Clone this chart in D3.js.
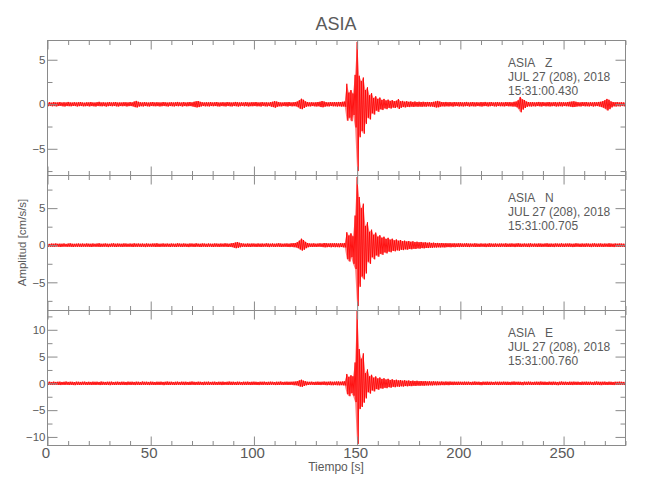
<!DOCTYPE html>
<html><head><meta charset="utf-8">
<script src="https://cdn.jsdelivr.net/npm/d3@7"></script>
<style>body{margin:0;background:#fff}svg{display:block}</style>
</head><body>
<svg id="c" width="650" height="500"></svg>
<script>
// ---------- data (per-second envelope, t = 0..280 s) ----------
const title = "ASIA";
const station = "ASIA";
const channels = ["Z", "N", "E"];
const dateLabel = "JUL 27 (208), 2018";
const startTimes = ["15:31:00.430", "15:31:00.705", "15:31:00.760"];
const xLabel = "Tiempo [s]";
const yLabel = "Amplitud [cm/s/s]";
const xTicks = [0, 50, 100, 150, 200, 250];
const xMinor = [10,20,30,40,60,70,80,90,110,120,130,140,160,170,180,190,210,220,230,240,260,270,280];
const yDomains = [[-8.0, 7.16], [-8.8, 9.4], [-11.6, 13.6]];
const yMajor = [[-5, 0, 5], [-5, 0, 5], [-10, -5, 0, 5, 10]];
const yMinor = [[-7.5, -2.5, 2.5], [-7.5, -2.5, 2.5, 7.5], [-7.5, -2.5, 2.5, 7.5, 12.5]];

const zUp = [
0.2,0.22,0.18,0.25,0.2,0.21,0.24,0.19,0.22,0.2,0.26,0.21,0.19,0.23,0.2,0.22,0.25,0.2,0.18,0.22,
0.21,0.24,0.2,0.19,0.23,0.27,0.2,0.22,0.19,0.21,0.24,0.2,0.22,0.25,0.19,0.21,0.2,0.23,0.22,0.2,
0.24,0.21,0.3,0.38,0.28,0.22,0.2,0.24,0.21,0.19,0.22,0.25,0.2,0.23,0.21,0.2,0.24,0.22,0.19,0.21,
0.23,0.2,0.22,0.26,0.21,0.2,0.24,0.19,0.22,0.25,0.21,0.28,0.33,0.36,0.27,0.22,0.2,0.23,0.21,0.24,
0.2,0.22,0.25,0.19,0.21,0.23,0.2,0.24,0.22,0.2,0.21,0.26,0.23,0.2,0.22,0.19,0.24,0.21,0.2,0.23,
0.22,0.25,0.2,0.21,0.24,0.2,0.22,0.19,0.23,0.28,0.35,0.3,0.24,0.21,0.2,0.23,0.22,0.25,0.2,0.22,
0.24,0.3,0.45,0.62,0.5,0.32,0.24,0.21,0.23,0.2,0.22,0.25,0.28,0.36,0.3,0.23,0.21,0.24,0.22,0.25,
0.23,0.26,0.24,0.28,0.3,2.3,1.3,1.6,1.2,3.3,7.0,3.2,2.6,3.0,1.6,1.9,1.0,1.25,0.7,0.9,
0.6,0.75,0.48,0.6,0.42,0.52,0.38,0.46,0.34,0.4,0.58,0.33,0.38,0.29,0.34,0.27,0.31,0.26,0.3,0.25,
0.28,0.25,0.27,0.24,0.26,0.25,0.23,0.27,0.32,0.38,0.3,0.25,0.23,0.26,0.22,0.24,0.21,0.25,0.23,0.22,
0.24,0.21,0.23,0.26,0.2,0.22,0.25,0.21,0.23,0.2,0.24,0.22,0.26,0.21,0.23,0.25,0.2,0.22,0.24,0.21,
0.23,0.2,0.25,0.22,0.24,0.21,0.27,0.3,0.45,0.82,0.55,0.48,0.3,0.25,0.22,0.24,0.21,0.23,0.26,0.22,
0.24,0.2,0.23,0.25,0.21,0.22,0.24,0.2,0.26,0.22,0.23,0.21,0.25,0.27,0.3,0.33,0.28,0.23,0.21,0.24,
0.22,0.25,0.2,0.23,0.21,0.24,0.22,0.26,0.28,0.35,0.45,0.6,0.5,0.32,0.25,0.22,0.24,0.21,0.23,0.2,
0.22];
const zLo = [
-0.21,-0.19,-0.23,-0.2,-0.24,-0.2,-0.18,-0.22,-0.25,-0.2,-0.21,-0.23,-0.2,-0.19,-0.24,-0.21,-0.2,-0.23,-0.22,-0.19,
-0.24,-0.2,-0.22,-0.25,-0.19,-0.21,-0.23,-0.2,-0.26,-0.21,-0.2,-0.22,-0.19,-0.23,-0.25,-0.2,-0.22,-0.19,-0.24,-0.21,
-0.2,-0.23,-0.32,-0.36,-0.26,-0.21,-0.24,-0.2,-0.22,-0.25,-0.19,-0.21,-0.23,-0.2,-0.24,-0.22,-0.19,-0.21,-0.25,-0.2,
-0.21,-0.24,-0.2,-0.22,-0.19,-0.25,-0.2,-0.23,-0.21,-0.2,-0.24,-0.3,-0.35,-0.32,-0.25,-0.2,-0.23,-0.21,-0.24,-0.2,
-0.22,-0.2,-0.23,-0.25,-0.2,-0.21,-0.24,-0.19,-0.22,-0.24,-0.2,-0.21,-0.25,-0.22,-0.19,-0.23,-0.2,-0.24,-0.21,-0.22,
-0.2,-0.23,-0.21,-0.25,-0.19,-0.22,-0.24,-0.2,-0.26,-0.3,-0.38,-0.28,-0.22,-0.24,-0.2,-0.21,-0.25,-0.2,-0.23,-0.21,
-0.22,-0.32,-0.48,-0.55,-0.42,-0.28,-0.22,-0.24,-0.2,-0.23,-0.25,-0.21,-0.3,-0.34,-0.27,-0.22,-0.24,-0.2,-0.23,-0.22,
-0.25,-0.22,-0.26,-0.24,-0.28,-1.85,-1.5,-1.9,-1.2,-2.6,-7.5,-3.7,-3.0,-3.3,-2.2,-1.5,-1.7,-1.0,-1.15,-0.7,
-0.85,-0.55,-0.65,-0.45,-0.55,-0.4,-0.48,-0.36,-0.42,-0.32,-0.52,-0.38,-0.3,-0.35,-0.28,-0.32,-0.26,-0.3,-0.25,-0.28,
-0.26,-0.28,-0.24,-0.27,-0.23,-0.26,-0.25,-0.3,-0.36,-0.34,-0.27,-0.23,-0.25,-0.22,-0.24,-0.21,-0.26,-0.22,-0.2,-0.24,
-0.21,-0.24,-0.22,-0.2,-0.25,-0.21,-0.23,-0.24,-0.2,-0.22,-0.25,-0.21,-0.2,-0.24,-0.22,-0.19,-0.23,-0.25,-0.2,-0.22,
-0.21,-0.24,-0.2,-0.23,-0.22,-0.25,-0.24,-0.32,-0.5,-0.9,-0.6,-0.42,-0.28,-0.23,-0.25,-0.21,-0.24,-0.2,-0.22,-0.25,
-0.2,-0.23,-0.21,-0.24,-0.22,-0.2,-0.25,-0.23,-0.21,-0.24,-0.2,-0.22,-0.23,-0.26,-0.32,-0.3,-0.26,-0.22,-0.24,-0.2,
-0.23,-0.21,-0.24,-0.2,-0.25,-0.22,-0.2,-0.24,-0.3,-0.38,-0.5,-0.7,-0.55,-0.35,-0.23,-0.25,-0.21,-0.24,-0.2,-0.22,
-0.21];
const nUp = [
0.2,0.18,0.22,0.2,0.24,0.19,0.21,0.2,0.23,0.18,0.22,0.25,0.2,0.19,0.21,0.23,0.2,0.22,0.19,0.24,
0.21,0.2,0.23,0.19,0.22,0.26,0.2,0.21,0.24,0.2,0.19,0.22,0.25,0.2,0.23,0.21,0.2,0.24,0.22,0.19,
0.22,0.2,0.25,0.21,0.23,0.2,0.22,0.19,0.24,0.21,0.2,0.23,0.22,0.26,0.2,0.21,0.24,0.2,0.22,0.19,
0.23,0.21,0.2,0.25,0.22,0.2,0.24,0.21,0.19,0.23,0.22,0.2,0.25,0.21,0.2,0.24,0.22,0.19,0.23,0.21,
0.2,0.24,0.22,0.2,0.23,0.21,0.25,0.22,0.2,0.26,0.3,0.36,0.42,0.33,0.25,0.22,0.2,0.24,0.21,0.23,
0.22,0.2,0.24,0.21,0.23,0.2,0.25,0.22,0.21,0.24,0.2,0.22,0.26,0.23,0.2,0.22,0.24,0.21,0.25,0.28,
0.3,0.4,0.62,0.88,0.7,0.45,0.3,0.24,0.22,0.25,0.21,0.23,0.26,0.22,0.3,0.28,0.24,0.26,0.25,0.27,
0.26,0.24,0.28,0.25,0.3,1.75,1.3,1.6,1.2,4.0,9.2,6.5,5.0,5.6,2.6,3.1,1.8,2.1,1.4,1.7,
1.15,1.35,1.0,1.15,0.85,1.0,0.75,0.88,0.65,0.78,0.6,0.7,0.55,0.62,0.5,0.56,0.46,0.52,0.42,0.47,
0.4,0.44,0.36,0.4,0.33,0.37,0.31,0.34,0.29,0.31,0.27,0.3,0.26,0.28,0.25,0.27,0.24,0.26,0.23,0.25,
0.25,0.22,0.24,0.26,0.22,0.23,0.21,0.25,0.22,0.2,0.24,0.21,0.23,0.2,0.25,0.22,0.21,0.24,0.2,0.22,
0.23,0.21,0.25,0.2,0.22,0.24,0.21,0.23,0.26,0.22,0.2,0.24,0.21,0.22,0.25,0.2,0.23,0.21,0.24,0.22,
0.2,0.23,0.25,0.21,0.22,0.2,0.24,0.22,0.21,0.25,0.2,0.23,0.22,0.24,0.2,0.21,0.25,0.22,0.2,0.23,
0.21,0.24,0.22,0.2,0.23,0.25,0.21,0.22,0.24,0.2,0.23,0.21,0.25,0.22,0.2,0.24,0.21,0.23,0.22,0.2,
0.22];
const nLo = [
-0.19,-0.22,-0.2,-0.23,-0.18,-0.21,-0.24,-0.2,-0.19,-0.22,-0.2,-0.21,-0.24,-0.2,-0.22,-0.19,-0.23,-0.2,-0.21,-0.2,
-0.22,-0.24,-0.19,-0.21,-0.2,-0.23,-0.22,-0.2,-0.19,-0.25,-0.21,-0.2,-0.22,-0.24,-0.19,-0.21,-0.23,-0.2,-0.22,-0.21,
-0.2,-0.24,-0.21,-0.22,-0.19,-0.23,-0.2,-0.25,-0.21,-0.2,-0.22,-0.19,-0.24,-0.21,-0.23,-0.2,-0.22,-0.21,-0.19,-0.24,
-0.2,-0.22,-0.24,-0.19,-0.21,-0.23,-0.2,-0.22,-0.25,-0.2,-0.21,-0.23,-0.19,-0.22,-0.24,-0.2,-0.21,-0.23,-0.2,-0.22,
-0.24,-0.2,-0.21,-0.23,-0.2,-0.22,-0.19,-0.24,-0.22,-0.25,-0.32,-0.4,-0.35,-0.28,-0.22,-0.2,-0.23,-0.21,-0.24,-0.2,
-0.21,-0.23,-0.2,-0.24,-0.22,-0.19,-0.21,-0.25,-0.2,-0.22,-0.23,-0.2,-0.21,-0.24,-0.22,-0.2,-0.23,-0.25,-0.22,-0.26,
-0.28,-0.38,-0.55,-0.72,-0.6,-0.4,-0.27,-0.22,-0.24,-0.21,-0.23,-0.2,-0.22,-0.25,-0.28,-0.26,-0.23,-0.27,-0.24,-0.26,
-0.25,-0.27,-0.24,-0.28,-0.3,-1.85,-2.2,-1.6,-2.5,-3.2,-8.2,-5.6,-4.2,-4.6,-3.8,-2.2,-2.5,-1.6,-1.9,-1.35,
-1.55,-1.15,-1.3,-0.95,-1.1,-0.85,-0.95,-0.75,-0.82,-0.68,-0.74,-0.6,-0.66,-0.55,-0.6,-0.5,-0.55,-0.46,-0.5,-0.42,
-0.46,-0.39,-0.42,-0.36,-0.38,-0.33,-0.35,-0.3,-0.32,-0.28,-0.3,-0.27,-0.29,-0.26,-0.25,-0.27,-0.24,-0.26,-0.23,-0.25,
-0.22,-0.24,-0.21,-0.23,-0.25,-0.2,-0.22,-0.24,-0.21,-0.23,-0.2,-0.22,-0.25,-0.21,-0.23,-0.2,-0.24,-0.22,-0.21,-0.23,
-0.2,-0.22,-0.24,-0.21,-0.23,-0.2,-0.25,-0.22,-0.21,-0.24,-0.22,-0.2,-0.23,-0.25,-0.21,-0.22,-0.2,-0.24,-0.21,-0.23,
-0.22,-0.2,-0.23,-0.24,-0.21,-0.25,-0.2,-0.22,-0.23,-0.21,-0.24,-0.2,-0.22,-0.21,-0.25,-0.23,-0.2,-0.22,-0.24,-0.21,
-0.23,-0.2,-0.22,-0.25,-0.21,-0.2,-0.24,-0.22,-0.21,-0.23,-0.2,-0.22,-0.24,-0.21,-0.25,-0.2,-0.22,-0.23,-0.21,-0.24,
-0.2];
const eUp = [
0.28,0.3,0.26,0.32,0.27,0.29,0.31,0.26,0.28,0.33,0.27,0.3,0.28,0.25,0.31,0.29,0.27,0.3,0.32,0.26,
0.29,0.27,0.31,0.28,0.3,0.26,0.33,0.28,0.27,0.3,0.29,0.32,0.26,0.28,0.31,0.27,0.3,0.29,0.26,0.32,
0.28,0.3,0.27,0.31,0.29,0.26,0.33,0.28,0.3,0.27,0.32,0.29,0.26,0.3,0.28,0.31,0.27,0.29,0.33,0.28,
0.3,0.26,0.29,0.32,0.27,0.31,0.28,0.3,0.26,0.29,0.33,0.28,0.27,0.31,0.29,0.26,0.3,0.28,0.32,0.27,
0.29,0.31,0.26,0.3,0.28,0.32,0.27,0.29,0.33,0.28,0.3,0.27,0.31,0.29,0.26,0.3,0.28,0.32,0.27,0.29,
0.31,0.28,0.26,0.3,0.29,0.32,0.27,0.28,0.31,0.29,0.26,0.3,0.28,0.33,0.27,0.29,0.31,0.28,0.3,0.32,
0.34,0.4,0.55,0.68,0.5,0.38,0.3,0.28,0.31,0.27,0.29,0.32,0.28,0.3,0.33,0.29,0.31,0.34,0.3,0.32,
0.33,0.35,0.31,0.36,0.38,1.75,1.2,1.5,1.3,3.9,13.5,6.4,4.6,5.6,1.9,2.6,1.3,1.6,1.05,1.3,
0.9,1.1,0.8,0.95,0.7,0.85,0.62,0.75,0.58,0.68,0.55,0.62,0.5,0.58,0.47,0.53,0.44,0.5,0.42,0.47,
0.4,0.44,0.38,0.42,0.36,0.4,0.34,0.38,0.33,0.36,0.31,0.35,0.3,0.34,0.31,0.33,0.3,0.32,0.29,0.31,
0.3,0.28,0.32,0.29,0.31,0.27,0.3,0.33,0.28,0.3,0.26,0.31,0.29,0.32,0.28,0.3,0.27,0.31,0.29,0.3,
0.28,0.32,0.29,0.3,0.27,0.31,0.33,0.28,0.3,0.29,0.26,0.31,0.28,0.32,0.3,0.27,0.29,0.31,0.28,0.33,
0.29,0.3,0.27,0.32,0.28,0.31,0.29,0.26,0.3,0.33,0.28,0.3,0.27,0.31,0.29,0.32,0.28,0.3,0.26,0.31,
0.29,0.32,0.28,0.3,0.27,0.31,0.33,0.29,0.28,0.3,0.32,0.27,0.31,0.29,0.26,0.3,0.28,0.32,0.29,0.27,
0.3];
const eLo = [
-0.29,-0.27,-0.31,-0.28,-0.26,-0.3,-0.32,-0.27,-0.29,-0.26,-0.31,-0.28,-0.3,-0.33,-0.27,-0.29,-0.31,-0.26,-0.28,-0.3,
-0.27,-0.31,-0.28,-0.3,-0.26,-0.32,-0.29,-0.27,-0.3,-0.28,-0.33,-0.27,-0.3,-0.29,-0.26,-0.31,-0.28,-0.3,-0.32,-0.27,
-0.3,-0.28,-0.32,-0.27,-0.29,-0.31,-0.26,-0.3,-0.28,-0.32,-0.27,-0.29,-0.31,-0.28,-0.3,-0.26,-0.33,-0.28,-0.29,-0.3,
-0.27,-0.31,-0.29,-0.26,-0.3,-0.28,-0.32,-0.27,-0.3,-0.29,-0.26,-0.31,-0.28,-0.3,-0.27,-0.32,-0.29,-0.28,-0.3,-0.26,
-0.31,-0.28,-0.3,-0.27,-0.32,-0.29,-0.26,-0.3,-0.28,-0.31,-0.27,-0.3,-0.29,-0.26,-0.32,-0.28,-0.3,-0.27,-0.31,-0.29,
-0.28,-0.3,-0.32,-0.27,-0.29,-0.26,-0.31,-0.3,-0.28,-0.27,-0.32,-0.29,-0.3,-0.26,-0.31,-0.28,-0.29,-0.3,-0.27,-0.33,
-0.35,-0.42,-0.58,-0.65,-0.48,-0.36,-0.3,-0.28,-0.27,-0.31,-0.29,-0.3,-0.32,-0.28,-0.3,-0.34,-0.31,-0.33,-0.35,-0.32,
-0.34,-0.36,-0.33,-0.37,-0.4,-2.0,-2.4,-1.8,-2.3,-3.5,-11.3,-4.8,-4.4,-3.6,-2.8,-1.6,-1.9,-1.3,-1.5,-1.05,
-1.2,-0.9,-1.0,-0.8,-0.9,-0.7,-0.8,-0.62,-0.72,-0.58,-0.64,-0.54,-0.6,-0.5,-0.55,-0.47,-0.52,-0.44,-0.48,-0.42,
-0.45,-0.4,-0.43,-0.38,-0.4,-0.36,-0.38,-0.34,-0.36,-0.33,-0.34,-0.32,-0.33,-0.31,-0.33,-0.3,-0.32,-0.29,-0.31,-0.3,
-0.28,-0.31,-0.29,-0.3,-0.27,-0.32,-0.29,-0.3,-0.28,-0.31,-0.33,-0.27,-0.3,-0.29,-0.31,-0.28,-0.3,-0.26,-0.32,-0.29,
-0.3,-0.27,-0.31,-0.29,-0.32,-0.28,-0.3,-0.26,-0.31,-0.29,-0.33,-0.28,-0.3,-0.27,-0.31,-0.29,-0.3,-0.28,-0.32,-0.27,
-0.3,-0.29,-0.31,-0.27,-0.32,-0.28,-0.3,-0.33,-0.29,-0.27,-0.31,-0.28,-0.3,-0.29,-0.32,-0.27,-0.3,-0.28,-0.31,-0.29,
-0.28,-0.3,-0.31,-0.27,-0.32,-0.29,-0.28,-0.3,-0.33,-0.27,-0.29,-0.31,-0.28,-0.3,-0.32,-0.27,-0.29,-0.3,-0.28,-0.31,
-0.29];

// ---------- layout / style ----------
const axisColor = "#8a8a8a";
const textColor = "#5a5a5a";
const traceColor = "#ff0000";
const narrow = "'Liberation Sans Narrow', 'Liberation Sans', sans-serif";
const regular = "'Liberation Sans', Arial, sans-serif";
const left = 47.5, right = 625.5;
const panelTops = [40.5, 175.5, 310.5], panelH = 135;

const svg = d3.select("#c");
const x = d3.scaleLinear().domain([0, 280]).range([left, right]);
const traces = [[zUp, zLo], [nUp, nLo], [eUp, eLo]];

function styleAxis(g) {
  g.select(".domain").remove();
  g.selectAll(".tick line").attr("stroke", axisColor).attr("stroke-width", 1);
  g.selectAll(".tick text").attr("fill", textColor);
}

channels.forEach((ch, k) => {
  const top = panelTops[k], bottom = top + panelH;
  const y = d3.scaleLinear().domain(yDomains[k]).range([bottom, top]);
  const [up, lo] = traces[k];

  svg.append("clipPath").attr("id", "clip" + k)
    .append("rect").attr("x", left).attr("y", top).attr("width", right - left).attr("height", panelH);
  const tg = svg.append("g").attr("clip-path", `url(#clip${k})`);

  // envelope band (light) + zig-zag trace between upper and lower values
  const area = d3.area().x((d, i) => x(i)).y0((d, i) => y(lo[i])).y1(d => y(d));
  tg.append("path").attr("d", area(up)).attr("fill", traceColor).attr("fill-opacity", 0.5);

  const pts = [];
  up.forEach((v, i) => { pts.push([i, v]); pts.push([i + 0.5, lo[i]]); });
  const line = d3.line().x(d => x(d[0])).y(d => y(d[1]));
  tg.append("path")
    .attr("d", line(pts))
    .attr("fill", "none")
    .attr("stroke", traceColor)
    .attr("stroke-width", 1)
    .attr("stroke-linejoin", "bevel")
    .attr("stroke-opacity", 0.85);

  // frame
  svg.append("rect").attr("x", left).attr("y", top).attr("width", right - left).attr("height", panelH)
    .attr("fill", "none").attr("stroke", axisColor).attr("stroke-width", 1);

  // x ticks top & bottom
  svg.append("g").attr("transform", `translate(0,${top})`)
    .call(d3.axisTop(x).tickValues(xTicks).tickSize(-9).tickSizeOuter(0).tickFormat("")).call(styleAxis);
  svg.append("g").attr("transform", `translate(0,${top})`)
    .call(d3.axisTop(x).tickValues(xMinor).tickSize(-4.5).tickSizeOuter(0).tickFormat("")).call(styleAxis);
  const bAx = d3.axisBottom(x).tickValues(xTicks).tickSize(-9).tickSizeOuter(0).tickPadding(2);
  if (k < 2) bAx.tickFormat("");
  const bg = svg.append("g").attr("transform", `translate(0,${bottom})`).call(bAx).call(styleAxis);
  bg.selectAll(".tick text").attr("font-family", narrow).attr("font-size", 15).attr("dx", -2);
  svg.append("g").attr("transform", `translate(0,${bottom})`)
    .call(d3.axisBottom(x).tickValues(xMinor).tickSize(-4.5).tickSizeOuter(0).tickFormat("")).call(styleAxis);

  // y ticks left (labelled) & right
  const lg = svg.append("g").attr("transform", `translate(${left},0)`)
    .call(d3.axisLeft(y).tickValues(yMajor[k]).tickSize(-10).tickSizeOuter(0).tickPadding(2).tickFormat(d3.format("d")))
    .call(styleAxis);
  lg.selectAll(".tick text").attr("font-family", narrow).attr("font-size", 11.5);
  svg.append("g").attr("transform", `translate(${left},0)`)
    .call(d3.axisLeft(y).tickValues(yMinor[k]).tickSize(-5).tickSizeOuter(0).tickFormat("")).call(styleAxis);
  svg.append("g").attr("transform", `translate(${right},0)`)
    .call(d3.axisRight(y).tickValues(yMajor[k]).tickSize(-10).tickSizeOuter(0).tickFormat("")).call(styleAxis);
  svg.append("g").attr("transform", `translate(${right},0)`)
    .call(d3.axisRight(y).tickValues(yMinor[k]).tickSize(-5).tickSizeOuter(0).tickFormat("")).call(styleAxis);

  // annotation
  const ann = svg.append("g").attr("font-family", regular).attr("font-size", 12).attr("fill", textColor);
  ann.append("text").attr("x", 508).attr("y", top + 26).text(station);
  ann.append("text").attr("x", 545).attr("y", top + 26).text(ch);
  ann.append("text").attr("x", 508).attr("y", top + 40).text(dateLabel);
  ann.append("text").attr("x", 508).attr("y", top + 54).text(startTimes[k]);
});

svg.append("text").attr("x", 336).attr("y", 29.5).attr("text-anchor", "middle")
  .attr("font-family", narrow).attr("font-size", 18).attr("fill", textColor).text(title);
svg.append("text").attr("x", 336).attr("y", 470.5).attr("text-anchor", "middle")
  .attr("font-family", regular).attr("font-size", 12).attr("fill", textColor).text(xLabel);
svg.append("text").attr("transform", "translate(25.5,242.5) rotate(-90)").attr("text-anchor", "middle")
  .attr("font-family", regular).attr("font-size", 11.5).attr("fill", textColor).text(yLabel);
</script>
</body></html>
